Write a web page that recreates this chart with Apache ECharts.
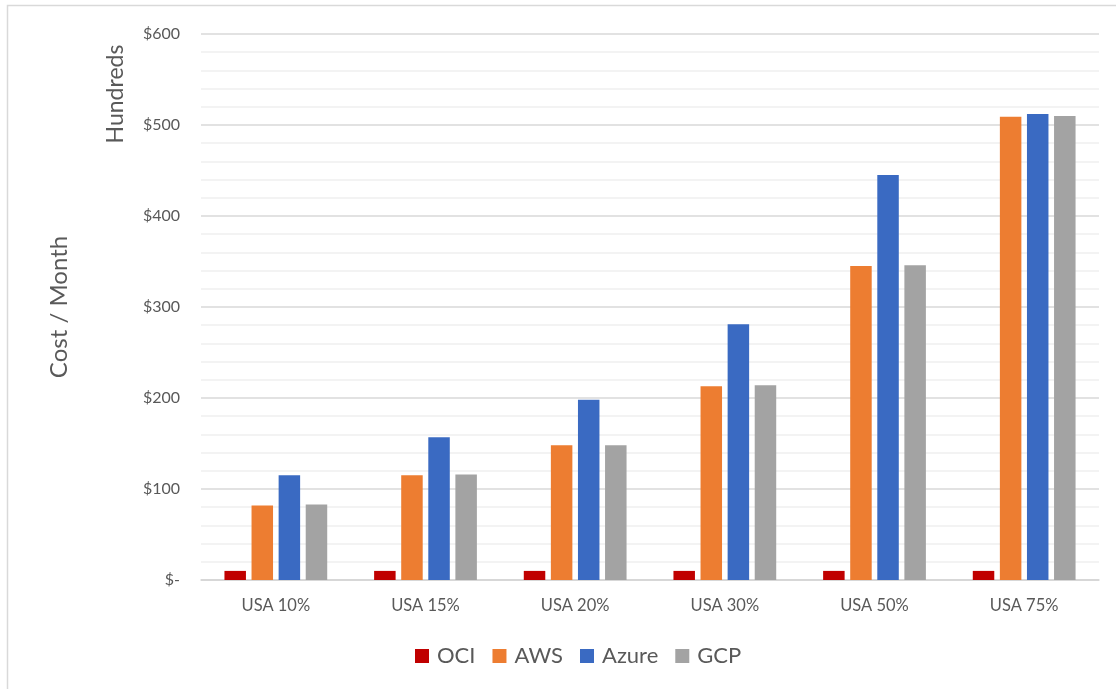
<!DOCTYPE html>
<html>
<head>
<meta charset="utf-8">
<script src="https://cdn.jsdelivr.net/npm/echarts@6/dist/echarts.min.js"></script>
<style>
  html, body { margin: 0; padding: 0; background: #fff; }
  #main { width: 1116px; height: 689px; }
</style>
</head>
<body>
<div id="main"></div>
<script>
// data (monthly cost, in hundreds of $)
var categories = ['USA 10%', 'USA 15%', 'USA 20%', 'USA 30%', 'USA 50%', 'USA 75%'];
var oci   = [10, 10, 10, 10, 10, 10];
var aws   = [82, 115, 148, 213, 345, 509];
var azure = [115, 157, 198, 281, 445, 512];
var gcp   = [83, 116, 148, 214, 346, 510];
var seriesNames = ['OCI', 'AWS', 'Azure', 'GCP'];

function draw_chart(){
    var myChart = echarts.init(document.getElementById('main'));
    var txt = '#595959';
    var font = 'Lato, "Open Sans", sans-serif';

    var option = {
        backgroundColor: '#fff',
        textStyle: { fontFamily: font },
        color: ['#C00000', '#ED7D31', '#3A6AC2', '#A3A3A3'],
        grid: { left: 201, right: 17, top: 34, bottom: 109 },
        legend: {
            left: 410,
            top: 640,
            icon: 'rect',
            itemWidth: 14,
            itemHeight: 14,
            itemGap: 17,
            textStyle: { color: txt, fontSize: 22, fontFamily: font, padding: [0, 0, 0, 3] },
            data: seriesNames
        },
        // outer frame + axis titles
        graphic: [
            {
                type: 'rect',
                shape: { x: 7.5, y: 5.5, width: 1130, height: 700 },
                style: { fill: 'none', stroke: '#d9d9d9', lineWidth: 1.5 },
                silent: true
            },
            {
                type: 'text',
                x: 59, y: 307,
                rotation: Math.PI / 2,
                style: { text: 'Cost / Month', fill: txt, font: '24px ' + font, align: 'center', verticalAlign: 'middle' }
            },
            {
                type: 'text',
                x: 116, y: 94,
                rotation: Math.PI / 2,
                style: { text: 'Hundreds', fill: txt, font: '23px ' + font, align: 'center', verticalAlign: 'middle' }
            }
        ],
        xAxis: {
            type: 'category',
            data: categories,
            axisTick: { show: false },
            axisLine: { lineStyle: { color: '#d4d4d4', width: 1.5 } },
            axisLabel: { color: txt, fontSize: 16.5, margin: 17 }
        },
        yAxis: {
            type: 'value',
            min: 0,
            max: 600,
            interval: 100,
            axisLine: { show: false },
            axisTick: { show: false },
            axisLabel: {
                color: txt,
                fontSize: 16,
                margin: 21,
                formatter: function(v){
                    return v === 0 ? '$-' : '$' + v;
                }
            },
            splitLine: { lineStyle: { color: '#d9d9d9', width: 1.5 } },
            minorTick: { show: false, splitNumber: 5 },
            minorSplitLine: { show: true, lineStyle: { color: '#f0f0f0', width: 1.5 } }
        },
        series: []
    };

    var allData = [oci, aws, azure, gcp];
    for (var k = 0; k < allData.length; k++) {
        option.series.push({
            name: seriesNames[k],
            type: 'bar',
            data: allData[k],
            barWidth: 21.5,
            barGap: '26%'
        });
    }

    myChart.setOption(option);
}

draw_chart();
</script>
</body>
</html>
